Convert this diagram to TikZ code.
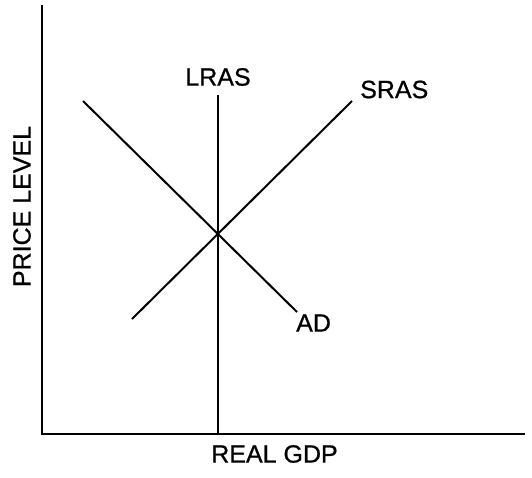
\documentclass[tikz,border=0pt]{standalone}
\usepackage{fontspec}
\setmainfont[FakeBold=0.8]{Liberation Sans}
\begin{document}
\begin{tikzpicture}[x=1pt,y=-1pt,
  axis/.style={line width=2.4pt},
  curve/.style={line width=2pt},
  lbl/.style={font=\fontsize{25}{25}\selectfont, inner sep=0pt}]
\useasboundingbox (0,0) rectangle (532,477);
\coordinate (o) at (42,434);
\coordinate (ytop) at (42,5);
\coordinate (xend) at (525,434);
\coordinate (lrastop) at (218,95);
\coordinate (lrasbot) at (218,434);
\coordinate (ad1) at (83,101);
\coordinate (ad2) at (297,312);
\coordinate (sr1) at (132,319);
\coordinate (sr2) at (352,101);
\draw[axis] (ytop) -- (o) -- (xend);
\draw[curve] (lrastop) -- (lrasbot);
\draw[curve] (ad1) -- (ad2);
\draw[curve] (sr1) -- (sr2);
\node[lbl] (lras) at (218,77) {LRAS};
\node[lbl, anchor=west] (sras) at (360,89.5) {SRAS};
\node[lbl, anchor=west] (ad) at (296,323) {AD};
\node[lbl] (gdp) at (274.5,454) {REAL GDP};
\node[lbl, rotate=90] (pl) at (22,206.5) {PRICE LEVEL};
\end{tikzpicture}
\end{document}
